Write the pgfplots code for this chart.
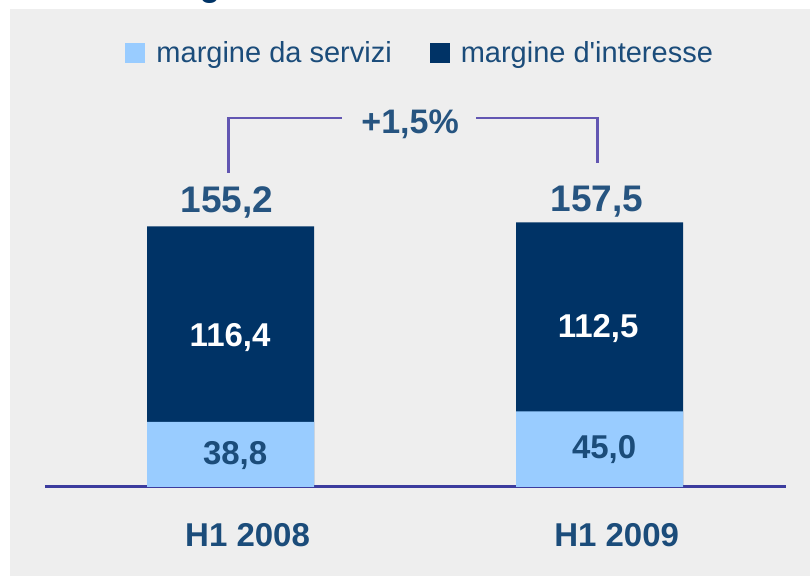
\documentclass[border=0pt]{standalone}
\usepackage{fontspec}
\setmainfont{Liberation Sans}
\usepackage{pgfplots}
\pgfplotsset{compat=1.18}
\definecolor{lightbar}{RGB}{153,204,255}
\definecolor{darkbar}{RGB}{0,51,102}
\definecolor{textblue}{RGB}{27,76,122}
\definecolor{totblue}{RGB}{38,84,128}
\definecolor{bracketc}{RGB}{98,86,178}
\definecolor{basec}{RGB}{60,60,158}
\definecolor{bggray}{RGB}{238,238,238}
\begin{document}
\begin{tikzpicture}
\useasboundingbox (0,0) rectangle (405pt,288pt);
\fill[bggray] (5pt,0) rectangle (405pt,283.5pt);
\node[anchor=base, inner sep=0pt, font=\bfseries\fontsize{16.5}{20}\selectfont, text=darkbar] at (105pt,289.5pt) {g};
\begin{axis}[
  at={(22.5pt,44.5pt)}, anchor=south west,
  scale only axis, width=370.5pt, height=226.8pt,
  xmin=-0.503, xmax=1.505, ymin=0, ymax=270,
  ybar, bar width=83.5pt, bar shift=0pt,
  axis x line=bottom, axis y line=none,
  axis line style={draw=basec, line width=1.5pt, -},
  xtick={0,1}, xticklabels={H1 2008, H1 2009},
  major tick length=0pt,
  xticklabel style={anchor=center, yshift=-24pt, xshift=8.5pt,
    font=\bfseries\fontsize{16.5}{20}\selectfont, text=textblue},
  ytick=\empty,
  clip=false,
  legend columns=2,
  legend style={at={(axis cs:-0.286,258.3)}, anchor=west, draw=none, fill=none,
    inner sep=0pt, font=\fontsize{14.5}{17}\selectfont, text=textblue,
    /tikz/every odd column/.append style={column sep=3.5pt},
    /tikz/every even column/.append style={column sep=17pt}},
  legend image code/.code={\fill[#1] (0pt,-5pt) rectangle (10pt,5pt);},
]
% total height of each bar (margine da servizi + margine d'interesse)
\addplot[fill=darkbar, draw=none, forget plot] coordinates {(0,155.2) (1,157.5)};
% margine da servizi
\addplot[fill=lightbar, draw=none] coordinates {(0,38.8) (1,45.0)};
\addlegendentry{margine da servizi}
\addlegendimage{fill=darkbar, draw=none}
\addlegendentry{margine d\textquotesingle interesse}

\begin{scope}[every node/.style={anchor=base, inner sep=0pt}]
\node[font=\bfseries\fontsize{18.5}{22}\selectfont, text=totblue] at (axis cs:-0.0095,163.1) {155,2};
\node[font=\bfseries\fontsize{18.5}{22}\selectfont, text=totblue] at (axis cs:0.9932,163.7) {157,5};
\node[font=\bfseries\fontsize{16.5}{20}\selectfont, text=white] at (axis cs:-0.0014,83.5) {116,4};
\node[font=\bfseries\fontsize{16.5}{20}\selectfont, text=white] at (axis cs:0.9959,89.1) {112,5};
\node[font=\bfseries\fontsize{16.5}{20}\selectfont, text=textblue] at (axis cs:0.0122,13.5) {38,8};
\node[font=\bfseries\fontsize{16.5}{20}\selectfont, text=textblue] at (axis cs:1.0122,17.1) {45,0};
\node[font=\bfseries\fontsize{17}{20}\selectfont, text=totblue] at (axis cs:0.4864,210.7) {+1,5\%};
\end{scope}
\draw[bracketc, line width=1.4pt] (axis cs:-0.0068,186.9) -- (axis cs:-0.0068,219.6) -- (axis cs:0.3022,219.6);
\draw[bracketc, line width=1.4pt] (axis cs:0.6653,219.6) -- (axis cs:0.9932,219.6) -- (axis cs:0.9932,192.9);
\end{axis}
\end{tikzpicture}
\end{document}
